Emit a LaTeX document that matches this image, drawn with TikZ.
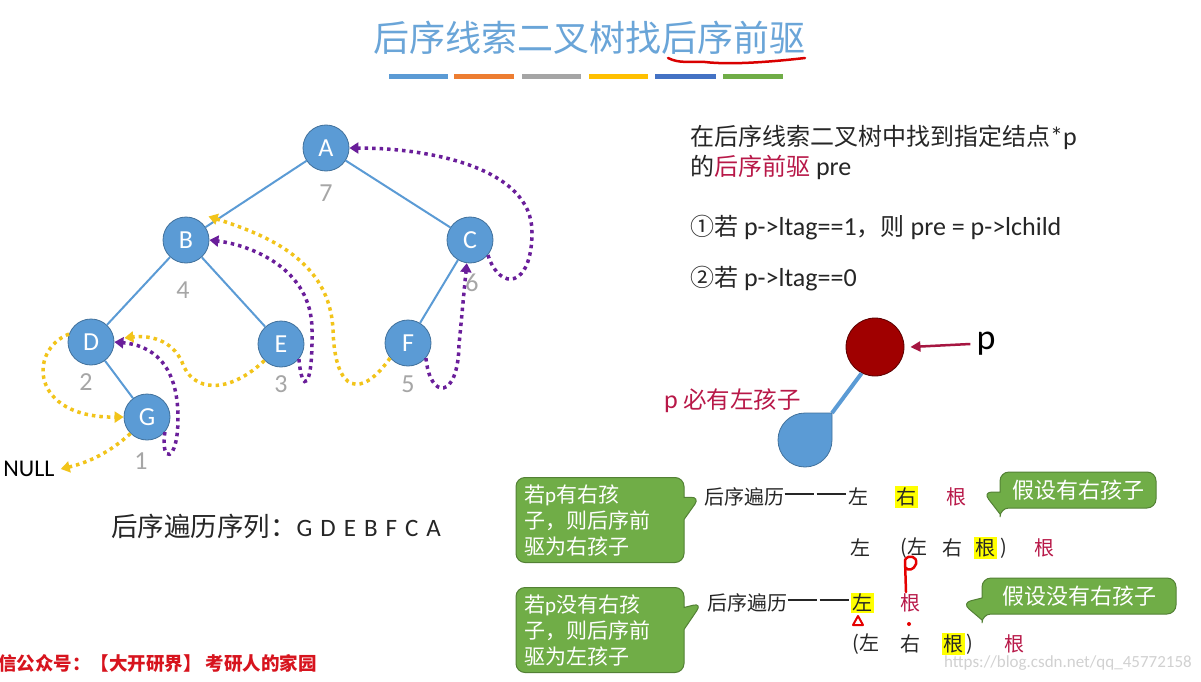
\documentclass[tikz,border=0pt]{standalone}
\usepackage{fontspec}
\setmainfont{Noto Sans CJK SC}
\newfontfamily\lat{Carlito}
\usetikzlibrary{arrows.meta,shapes.callouts,calc}
\definecolor{nodeblue}{HTML}{5B9BD5}
\definecolor{nodeedge}{HTML}{41719C}
\definecolor{titleblue}{HTML}{6AA5D8}
\definecolor{thyellow}{HTML}{F2C41A}
\definecolor{thpurple}{HTML}{6A1E9A}
\definecolor{crimson}{HTML}{B81848}
\definecolor{darkred}{HTML}{A00000}
\definecolor{calgreen}{HTML}{70AD47}
\definecolor{calgreenedge}{HTML}{538135}
\definecolor{numgray}{HTML}{A6A6A6}
\definecolor{hl}{HTML}{FFFF00}
\definecolor{txt}{HTML}{262626}
\newcommand\lt[1]{{\lat\fontsize{26}{26}\selectfont #1}}
\tikzset{
  tnode/.style={circle,fill=nodeblue,draw=nodeedge,line width=0.8pt,minimum size=46pt,inner sep=0pt,text=white,font=\lat\fontsize{26}{26}\selectfont},
  tedge/.style={draw=nodeblue,line width=2pt},
  numlab/.style={text=numgray,font=\lat\fontsize{26}{26}\selectfont},
  ythread/.style={draw=thyellow,line width=3.5pt,dash pattern=on 3.5pt off 4pt,-{Triangle[length=9pt,width=11pt]}},
  pthread/.style={draw=thpurple,line width=3.5pt,dash pattern=on 3.5pt off 4pt,-{Triangle[length=9pt,width=11pt]}},
  bodytxt/.style={text=txt,font=\fontsize{20}{20}\selectfont,inner sep=0pt},
  rtxt/.style={text=txt,font=\fontsize{24}{24}\selectfont,inner sep=0pt,anchor=west},
  gcall/.style={rectangle callout,rounded corners=9pt,fill=calgreen,draw=calgreenedge,line width=1pt,text=white,font=\fontsize{21}{26}\selectfont,align=left,inner sep=0pt,callout pointer width=22pt},
  hlbox/.style={fill=hl,inner sep=1.5pt},
  bar/.style={line width=5pt},
}
\begin{document}
\begin{tikzpicture}[x=1pt,y=-1pt]
\useasboundingbox (0,0) rectangle (1201,682);
\fill[white] (0,0) rectangle (1201,682);
% title
\node[text=titleblue,font=\fontsize{36}{36}\selectfont,inner sep=0pt] (title) at (589,38) {后序线索二叉树找后序前驱};
\draw[red!85!black,line width=2.5pt,line cap=round] (668,58) .. controls (680,64) and (690,61) .. (705,62) .. controls (730,65) and (770,62) .. (805,58);
\draw[bar,draw=nodeblue] (389,77) -- (448,77);
\draw[bar,draw={rgb,255:red,237;green,125;blue,49}] (454,77) -- (514,77);
\draw[bar,draw={rgb,255:red,165;green,165;blue,165}] (522,77) -- (581,77);
\draw[bar,draw={rgb,255:red,255;green,192;blue,0}] (589,77) -- (648,77);
\draw[bar,draw={rgb,255:red,68;green,114;blue,196}] (655,77) -- (716,77);
\draw[bar,draw={rgb,255:red,112;green,173;blue,71}] (723,77) -- (783,77);
% tree
\node[tnode] (A) at (326,148) {A};
\node[tnode] (B) at (186,240) {B};
\node[tnode] (C) at (470,240) {C};
\node[tnode] (D) at (91,342) {D};
\node[tnode] (E) at (281,344) {E};
\node[tnode] (F) at (408,343) {F};
\node[tnode] (G) at (147,417) {G};
\path[tedge] (A) -- (B) (A) -- (C) (B) -- (D) (B) -- (E) (C) -- (F) (D) -- (G);
\node[numlab] (n7) at (326,193) {7};
\node[numlab] (n4) at (183,290) {4};
\node[numlab] (n6) at (472,283) {6};
\node[numlab] (n2) at (86,382) {2};
\node[numlab] (n3) at (281,384) {3};
\node[numlab] (n5) at (408,384) {5};
\node[numlab] (n1) at (141,461) {1};
\node[text=black,font=\lat\fontsize{24}{24}\selectfont,inner sep=0pt] (null) at (29,469) {NULL};
% yellow threads
\draw[ythread] (G.225) .. controls (110,452) and (90,462) .. ([xshift=6pt]null.east);
\draw[ythread] (D.160) .. controls (28,350) and (30,418) .. (G.180);
\draw[ythread] (E.225) .. controls (228,395) and (192,392) .. (182,362) .. controls (172,340) and (150,335) .. ([xshift=10pt,yshift=4pt]D.east);
\draw[ythread] (F.220) .. controls (362,398) and (335,395) .. (333,330) .. controls (330,262) and (270,236) .. ([xshift=6pt,yshift=7pt]B.north east);
% purple threads
\draw[pthread] (G.-40) .. controls (160,464) and (178,464) .. (178,418) .. controls (178,362) and (150,345) .. (D.east);
\draw[pthread] (E.-40) .. controls (302,395) and (313,390) .. (312,330) .. controls (312,268) and (250,245) .. (B.east);
\draw[pthread] (F.-40) .. controls (430,400) and (458,400) .. (459,345) -- (C.262);
\draw[pthread] (C.-40) .. controls (500,292) and (532,288) .. (532,232) .. controls (532,168) and (430,148) .. (A.east);
% sequence
\node[text=txt,font=\fontsize{26.5}{27}\selectfont,inner sep=0pt,anchor=west] (seq) at (111,526) {后序遍历序列：{\lat\fontsize{25}{25}\selectfont G\hskip8pt D\hskip8pt E\hskip8pt B\hskip8pt F\hskip8pt C\hskip8pt A}};
\node[text={rgb,255:red,215;green,20;blue,30},font=\bfseries\fontsize{18.5}{20}\selectfont,inner sep=0pt,anchor=west] (wx) at (-2,663) {信公众号：【大开研界】 考研人的家园};
% right text
\node[rtxt] (r1) at (690,137) {在后序线索二叉树中找到指定结点\lt{*p}};
\node[rtxt] (r2) at (690,167) {的\textcolor{crimson}{后序前驱}\lt{\ pre}};
\node[rtxt] (r3) at (690,228) {①若\lt{\ p->ltag==1}，则\lt{\ pre = p->lchild}};
\node[rtxt] (r4) at (690,279) {②若\lt{\ p->ltag==0}};
% p node
\node[circle,fill=darkred,draw={rgb,255:red,90;green,0;blue,0},line width=0.8pt,minimum size=58pt,inner sep=0pt] (P) at (875,347) {};
\node[text=black,font=\lat\fontsize{36}{36}\selectfont,inner sep=0pt] (plab) at (986,344) {p};
\draw[draw=crimson!90!black,line width=2.5pt,-{Triangle[length=10pt,width=10pt]}] ([xshift=-6pt]plab.west) -- ([xshift=6pt]P.east);
\coordinate (lc) at (832,413);
\draw[draw=nodeblue,line width=4pt] (P.243) -- (lc);
\draw[fill=nodeblue,draw=nodeedge,line width=0.8pt] (805,413) -- (lc) -- (832,440) arc[start angle=0,end angle=270,radius=27] -- cycle;
\node[text=crimson,font=\fontsize{23.5}{24}\selectfont,inner sep=0pt,anchor=west] (must) at (664,401) {{\lat\fontsize{26}{26}\selectfont p} 必有左孩子};
% first row
\node[bodytxt,anchor=west] (h1) at (704,497) {后序遍历};
\node[bodytxt,anchor=west] (d1) at (h1.east) {\rule[6pt]{29pt}{2.2pt}\hskip3pt\rule[6pt]{29pt}{2.2pt}};
\node[bodytxt] (a1) at (858,497) {左};
\node[bodytxt,hlbox] (a2) at (906,497) {右};
\node[bodytxt,text=crimson] (a3) at (956,497) {根};
\node[bodytxt] (b1) at (860,548) {左};
\node[bodytxt] (b2) at (914,548) {(左};
\node[bodytxt] (b3) at (952,548) {右};
\node[bodytxt,hlbox] (b4) at (985,548) {根};
\node[bodytxt] (b5) at (1004,548) {)};
\node[bodytxt,text=crimson] (b6) at (1044,548) {根};
% second rows
\node[bodytxt,anchor=west] (h2) at (707,603) {后序遍历};
\node[bodytxt,anchor=west] (d2) at (h2.east) {\rule[6pt]{29pt}{2.2pt}\hskip3pt\rule[6pt]{29pt}{2.2pt}};
\node[bodytxt,hlbox] (c1) at (862,603) {左};
\node[bodytxt,text=crimson] (c2) at (910,603) {根};
\node[bodytxt] (e1) at (866,644) {(左};
\node[bodytxt] (e2) at (910,644) {右};
\node[bodytxt,hlbox] (e3) at (953,644) {根};
\node[bodytxt] (e4) at (970,644) {)};
\node[bodytxt,text=crimson] (e5) at (1014,644) {根};
% callouts
\node[gcall,minimum width=168pt,minimum height=85pt,text width=152pt,callout absolute pointer={([xshift=-4pt]h1.west)}] (k1) at (600,520) {若{\lat p}有右孩\\子，则后序前\\驱为右孩子};
\node[gcall,font=\fontsize{22}{22}\selectfont,minimum width=156pt,minimum height=36pt,align=center,callout absolute pointer={(983,492)}] (k2) at (1078,490) {假设有右孩子};
\node[gcall,minimum width=168pt,minimum height=85pt,text width=152pt,callout absolute pointer={([xshift=-5pt]h2.west)}] (k3) at (600,630) {若{\lat p}没有右孩\\子，则后序前\\驱为左孩子};
\node[gcall,font=\fontsize{22}{22}\selectfont,minimum width=194pt,minimum height=36pt,align=center,callout absolute pointer={(962,603)}] (k4) at (1079,596) {假设没有右孩子};
% handwritten red marks
\draw[red!90!black,line width=2.5pt,line cap=round,line join=round] (906,592) -- (905,560) .. controls (908,554) and (918,556) .. (916,564) .. controls (914,570) and (908,571) .. (906,568);
\fill[red!90!black] (909,624) circle (2pt);
\draw[red!90!black,line width=2pt,line join=round] (853,625) -- (858,616) -- (863,625) -- cycle;
% watermark
\node[text=black!18,font=\lat\fontsize{17}{17}\selectfont,inner sep=0pt,anchor=east] (wm) at (1192,663) {https://blog.csdn.net/qq\_45772158};
\end{tikzpicture}
\end{document}
